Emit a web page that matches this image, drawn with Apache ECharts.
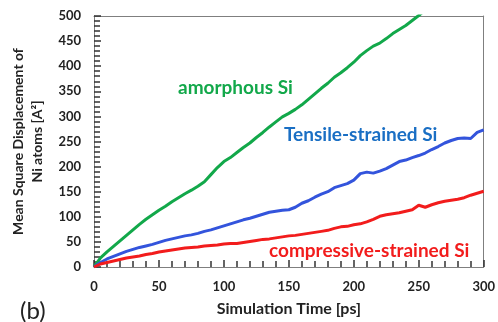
<!DOCTYPE html>
<html>
<head>
<meta charset="utf-8">
<script src="https://cdn.jsdelivr.net/npm/echarts@6/dist/echarts.min.js"></script>
<style>
  html, body { margin: 0; padding: 0; background: #fff; }
  #chart { width: 498px; height: 322px; }
</style>
</head>
<body>
<div id="chart"></div>
<script>
// Simulation time samples [ps]
const timePs = [0,5,10,15,20,25,30,35,40,45,50,55,60,65,70,75,80,85,90,95,100,105,110,115,120,125,130,135,140,145,150,155,160,165,170,175,180,185,190,195,200,205,210,215,220,225,230,235,240,245,250,255,260,265,270,275,280,285,290,295,300];

// Mean square displacement of Ni atoms [A^2]
const amorphousSi = [0,18,30,41,52,63,74,85,95,104,113,121,130,138,146,153,161,170,184,198,210,218,228,238,247,258,268,279,289,299,306,314,323,334,345,356,366,378,387,397,408,421,431,440,446,455,465,473,481,491,501,512];
const tensileSi = [0,9,16,21,26,31,35,39,42,45,49,53,56,59,62,64,67,71,74,78,82,86,90,94,97,101,105,109,111,113,114,119,127,132,139,145,150,158,162,166,173,186,189,187,191,196,203,210,213,218,222,227,234,240,247,252,256,257,256,268,273];
const compressiveSi = [0,6,9,12,15,18,20,22,25,27,30,32,34,36,38,39,40,42,43,44,46,47,47,49,51,53,55,56,58,60,62,63,65,67,69,71,73,77,80,81,84,86,90,95,101,104,106,108,111,114,123,119,124,128,131,133,135,138,143,147,151];

const xTicks = [0, 50, 100, 150, 200, 250, 300];
const yTicks = [0, 50, 100, 150, 200, 250, 300, 350, 400, 450, 500];

const seriesLabels = ['amorphous Si', 'Tensile-strained Si', 'compressive-strained Si'];

const pairs = vals => vals.map((v, i) => [timePs[i], v]);
const FONT = 'Lato';
const FRAME = '#7f7f7f';
const TICK = '#333';

const chart = echarts.init(document.getElementById('chart'));

// Bottom/left axes carry ticks and labels; top/right axes only close the frame.
function mainAxis(ticks) {
  return {
    type: 'value', min: ticks[0], max: ticks[ticks.length - 1], interval: 50,
    axisLine: { show: true, lineStyle: { color: FRAME } },
    axisTick: { show: true, inside: true, length: 7, lineStyle: { color: TICK, width: 1.5 } },
    minorTick: { show: true, splitNumber: 5, length: 6, lineStyle: { color: TICK, width: 1.5 } },
    splitLine: { show: false },
    axisLabel: { show: true, color: '#222', fontFamily: FONT, fontWeight: 'bold', fontSize: 13, margin: 13 }
  };
}
function frameAxis(ticks, position) {
  return {
    type: 'value', position: position, min: ticks[0], max: ticks[ticks.length - 1], interval: 50,
    axisLine: { show: true, onZero: false, lineStyle: { color: FRAME } },
    axisTick: { show: false }, axisLabel: { show: false }, splitLine: { show: false }
  };
}

chart.setOption({
  animation: false,
  grid: { left: 94, right: 13, top: 16, bottom: 54 },
  title: {
    text: '(b)', left: 15, top: 294,
    textStyle: { fontFamily: FONT, fontWeight: 'normal', fontSize: 24, color: '#222' }
  },
  xAxis: [
    Object.assign(mainAxis(xTicks), {
      position: 'bottom',
      name: 'Simulation Time [ps]', nameLocation: 'middle', nameGap: 34,
      nameTextStyle: { fontFamily: FONT, fontWeight: 'bold', fontSize: 16, color: '#222' }
    }),
    frameAxis(xTicks, 'top')
  ],
  yAxis: [
    Object.assign(mainAxis(yTicks), {
      position: 'left',
      name: 'Mean Square Displacement of\nNi atoms [A²]', nameLocation: 'middle', nameGap: 46,
      nameTextStyle: { fontFamily: FONT, fontWeight: 'bold', fontSize: 14, color: '#222', lineHeight: 19 }
    }),
    frameAxis(yTicks, 'right')
  ],
  series: [
    { type: 'line', name: seriesLabels[0], data: pairs(amorphousSi), showSymbol: false,
      lineStyle: { color: '#12a84a', width: 3 } },
    { type: 'line', name: seriesLabels[1], data: pairs(tensileSi), showSymbol: false,
      lineStyle: { color: '#3354dc', width: 3 } },
    { type: 'line', name: seriesLabels[2], data: pairs(compressiveSi), showSymbol: false,
      lineStyle: { color: '#f21c1c', width: 3 } }
  ],
  graphic: [
    { type: 'text', left: 178, top: 78,
      style: { text: seriesLabels[0], fill: '#12a84a', font: 'bold 19px "' + FONT + '"' } },
    { type: 'text', left: 284, top: 125,
      style: { text: seriesLabels[1], fill: '#1a6fc4', font: 'bold 19px "' + FONT + '"' } },
    { type: 'text', left: 269, top: 241,
      style: { text: seriesLabels[2], fill: '#f21c1c', font: 'bold 19px "' + FONT + '"' } }
  ]
});
</script>
</body>
</html>
